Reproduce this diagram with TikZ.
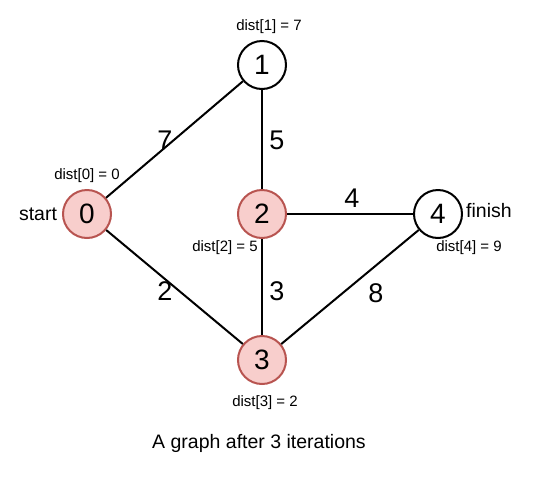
\documentclass[tikz,border=0pt]{standalone}
\usepackage{fontspec}
\setmainfont{Liberation Sans}
\usepackage{tikz}
\usetikzlibrary{positioning}
\definecolor{visfill}{HTML}{F8CECC}
\definecolor{visline}{HTML}{B85450}

\begin{document}
\begin{tikzpicture}[x=1pt,y=-1pt]
\tikzstyle{vertex}=[circle,draw=black,line width=2pt,minimum size=48pt,inner sep=0pt,font=\fontsize{28}{30}\selectfont]
\tikzstyle{visited}=[vertex,fill=visfill,draw=visline]
\tikzstyle{edge}=[line width=2pt]
\tikzstyle{weight}=[font=\fontsize{27}{30}\selectfont]
\tikzstyle{dist}=[font=\fontsize{15}{17}\selectfont]
\tikzstyle{txt}=[font=\fontsize{19.5}{22}\selectfont]
\useasboundingbox (0,0) rectangle (544,491);
\node[visited] (n0) at (87,214) {0};
\node[vertex] (n1) at (262,65) {1};
\node[visited] (n2) at (262,214) {2};
\node[visited] (n3) at (262,360) {3};
\node[vertex] (n4) at (438,214) {4};
\draw[edge] (n0) -- (n1);
\draw[edge] (n0) -- (n3);
\draw[edge] (n1) -- (n2);
\draw[edge] (n2) -- (n4);
\draw[edge] (n2) -- (n3);
\draw[edge] (n3) -- (n4);
\node[weight] (w01) at (165,140) {7};
\node[weight] (w12) at (277,140) {5};
\node[weight] (w24) at (352,198) {4};
\node[weight] (w03) at (165,291) {2};
\node[weight] (w23) at (277,291) {3};
\node[weight] (w34) at (376,293) {8};
\node[dist] (d1) at (269,27) {dist[1] = 7};
\node[dist] (d0) at (87,176) {dist[0] = 0};
\node[dist] (d2) at (225,248) {dist[2] = 5};
\node[dist] (d4) at (469,248) {dist[4] = 9};
\node[dist] (d3) at (265,403) {dist[3] = 2};
\node[txt] (start) at (38,214) {start};
\node[txt] (finish) at (489,211) {finish};
\node[txt] (caption) at (259,443) {A graph after 3 iterations};
\end{tikzpicture}
\end{document}
